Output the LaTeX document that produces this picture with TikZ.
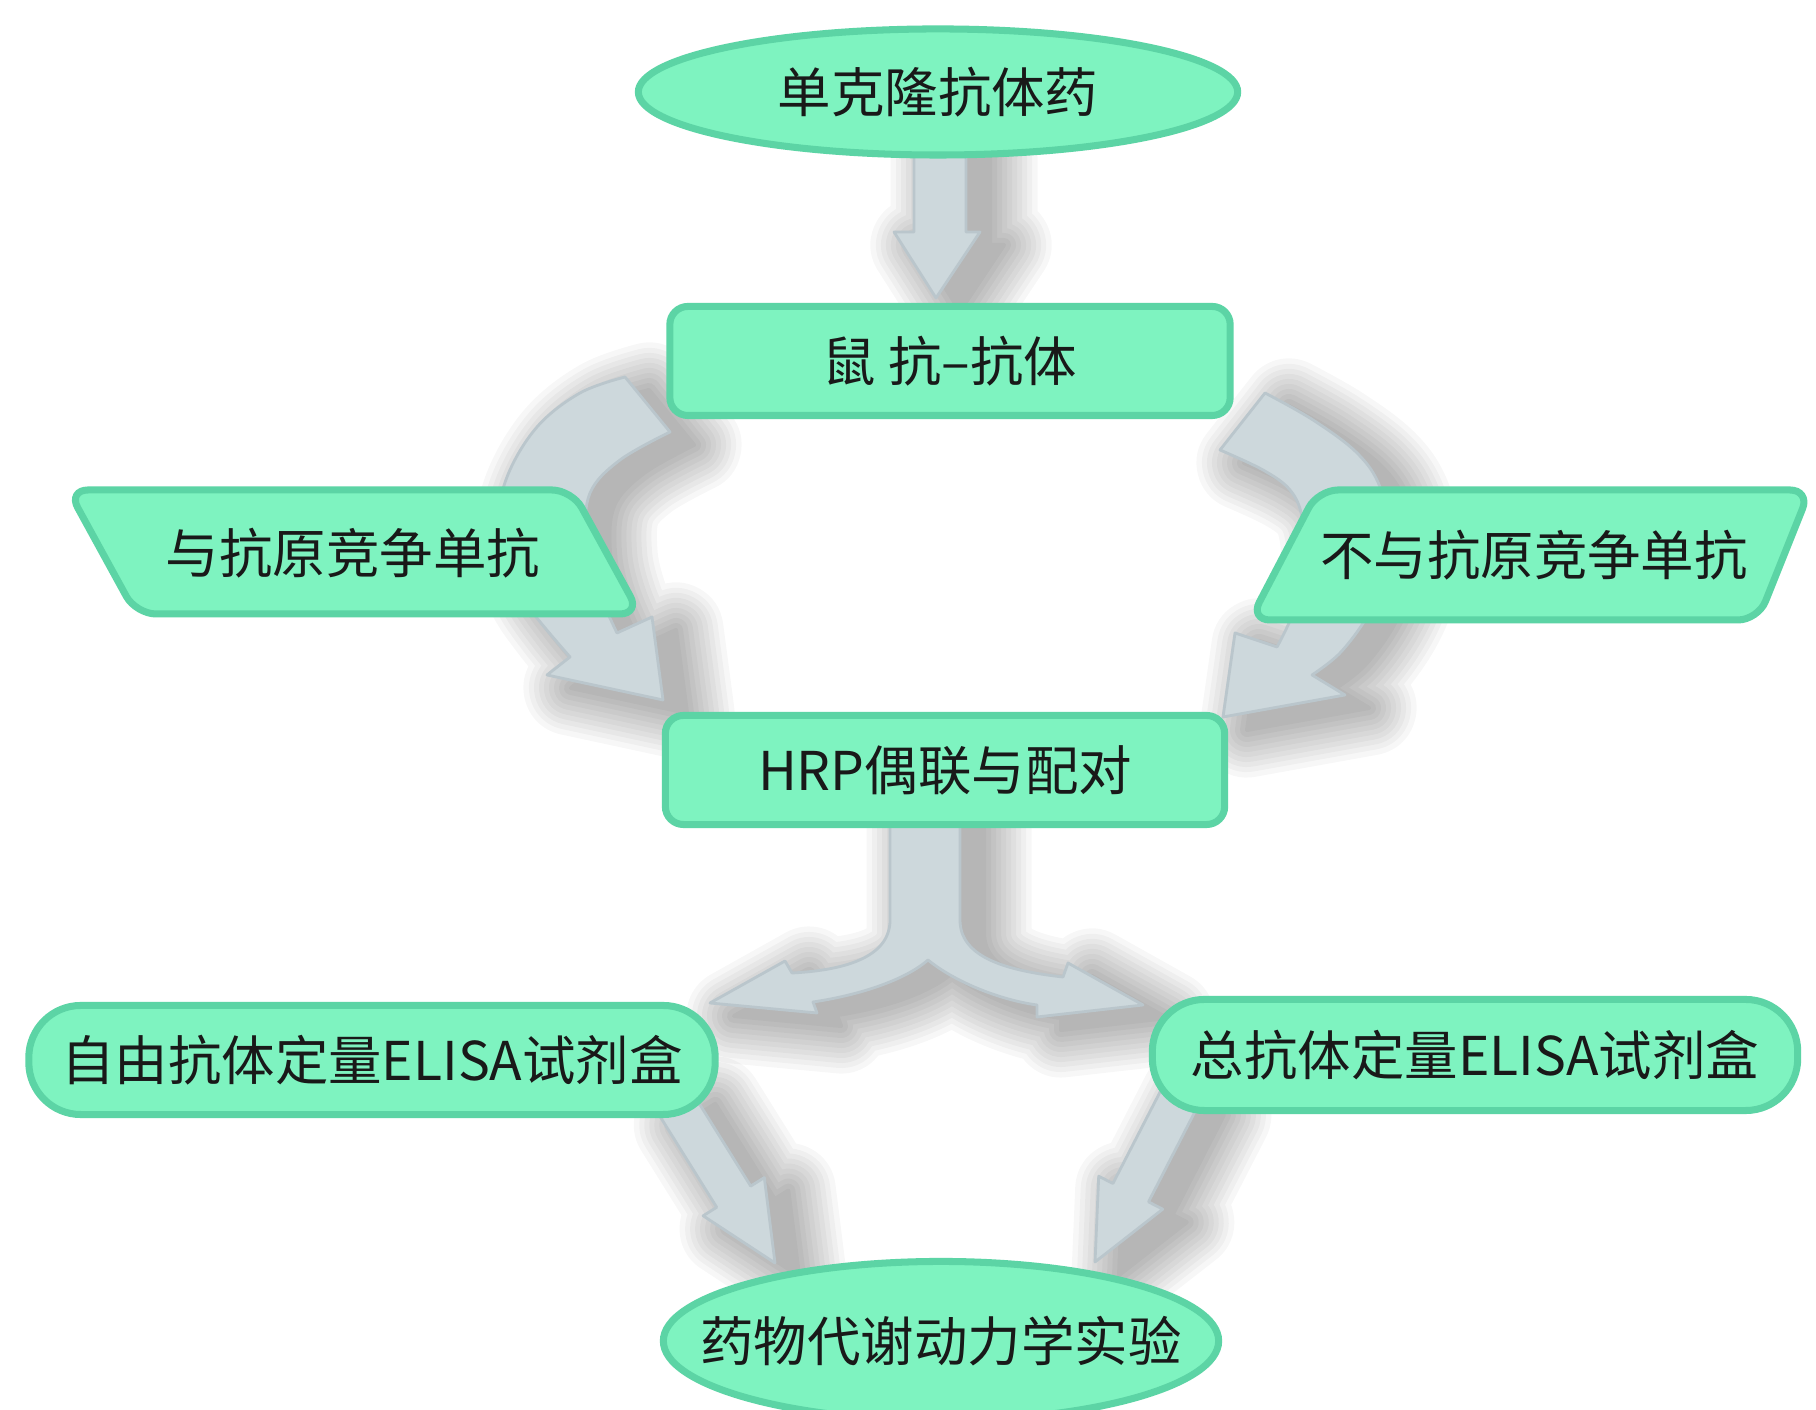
\documentclass[tikz,border=0pt]{standalone}
\usepackage{fontspec}
\newfontfamily\cjk{Noto Sans CJK SC}
\usetikzlibrary{shapes.geometric}
\definecolor{gfill}{RGB}{126,243,192}
\definecolor{gborder}{RGB}{92,212,165}
\definecolor{afill}{RGB}{205,216,220}
\definecolor{aborder}{RGB}{186,198,204}
\definecolor{tcol}{RGB}{25,25,25}
\newcommand\arrA{(914,1265) -- (914,1178) -- (894,1178) -- (936,1112) -- (980,1178) -- (966,1178) -- (966,1265) -- cycle}
\newcommand\arrB{plot[smooth, tension=0.6] coordinates {(625,1033) (580,1017) (537,983) (507,933) (497,880) (508,835) (533,797) (570,753)}
  -- (547,735) -- (663,710) -- (652,793) -- (617,777)
  -- plot[smooth, tension=0.6] coordinates {(617,777) (596,825) (586,870) (590,917) (620,950) (670,978)} -- cycle}
\newcommand\arrC{plot[smooth, tension=0.6] coordinates {(1265,1017) (1313,990) (1357,957) (1380,923) (1392,870) (1384,830) (1367,793) (1340,757) (1312,735)}
  -- (1345,715) -- (1223,693) -- (1235,777) -- (1277,763)
  -- plot[smooth, tension=0.6] coordinates {(1277,763) (1294,800) (1304,850) (1302,893) (1290,920) (1263,940) (1220,960)} -- cycle}
\newcommand\arrD{(890,595) -- (890,490) .. controls (890,455) and (850,440) .. (792,437) -- (785,449) -- (710,407) -- (817,397) -- (813,408)
  .. controls (860,415) and (905,430) .. (928,450) .. controls (955,428) and (1000,410) .. (1037,405)
  -- (1037,393) -- (1143,405) -- (1068,447) -- (1063,433) .. controls (1000,440) and (960,455) .. (960,490) -- (960,595) -- cycle}
\newcommand\arrE{(657.3,297.9) -- (716.7,202.7) -- (703.1,194.2) -- (775,147) -- (764.3,232.4) -- (750.7,223.9) -- (691.3,319.1) -- cycle}
\newcommand\arrF{(1164.2,326.1) -- (1112.9,226.5) -- (1098.7,233.8) -- (1095,148) -- (1162.7,200.8) -- (1148.5,208.1) -- (1199.8,307.7) -- cycle}
\begin{document}
\begin{tikzpicture}[x=0.01cm,y=0.01cm,
  lbl/.style={font=\cjk\fontsize{15.2pt}{18pt}\selectfont, text=tcol, inner sep=0pt},
  gbox/.style={draw=gborder, fill=gfill, line width=2pt},
  grect/.style={gbox, lbl, rectangle, rounded corners=0.18cm},
  gell/.style={gbox, lbl, ellipse},
  gpill/.style={gbox, lbl, rectangle, rounded corners=0.52cm},
  barrow/.style={fill=afill, draw=aborder, line width=0.8pt, line join=round}]
\fill[white] (0,0) rectangle (1816,1410);
\useasboundingbox (0,0) rectangle (1816,1410);

% ---- soft shadows of the block arrows ----
\foreach \shp in {\arrA,\arrB,\arrC,\arrD,\arrE,\arrF}{
  \foreach \w in {0.95cm,0.84cm,0.74cm,0.64cm,0.54cm,0.44cm,0.34cm,0.24cm,0.14cm,0.04cm}{
    \begin{scope}[transparency group, opacity=0.032]
      \filldraw[black, line width=\w, line join=round, xshift=0.24cm, yshift=-0.13cm] \shp;
    \end{scope}
  }
}

% ---- block arrows ----
\filldraw[barrow] \arrA; % top -> mouse
\filldraw[barrow] \arrB; % mouse -> comp -> hrp
\filldraw[barrow] \arrC; % mouse -> noncomp -> hrp
\filldraw[barrow] \arrD; % hrp -> two kits
\filldraw[barrow] \arrE; % free kit -> pk
\filldraw[barrow] \arrF; % total kit -> pk

% ---- nodes ----
\node[gell, minimum width=5.99cm, minimum height=1.26cm] (top) at (938,1318) {\makebox[0pt]{单克隆抗体药}};
\node[grect, minimum width=5.6cm, minimum height=1.09cm] (mouse) at (950,1049) {鼠 抗–抗体};
\draw[gbox, rounded corners=0.2cm] (68,920) -- (572,920) -- (640,796) -- (136,796) -- cycle;
\node[lbl] (comp) at (353,857) {与抗原竞争单抗};
\draw[gbox, rounded corners=0.2cm] (1318,920) -- (1810,920) -- (1758,790) -- (1250,790) -- cycle;
\node[lbl] (noncomp) at (1534,855) {不与抗原竞争单抗};
\node[grect, minimum width=5.59cm, minimum height=1.09cm] (hrp) at (945,640) {HRP偶联与配对};
\node[gpill, minimum width=6.86cm, minimum height=1.09cm] (free) at (372,350) {自由抗体定量ELISA试剂盒};
\node[gpill, minimum width=6.45cm, minimum height=1.11cm] (total) at (1475,355) {总抗体定量ELISA试剂盒};
\node[gell, minimum width=5.55cm, minimum height=1.59cm] (pk) at (941,69) {\makebox[0pt]{药物代谢动力学实验}};
\end{tikzpicture}
\end{document}
